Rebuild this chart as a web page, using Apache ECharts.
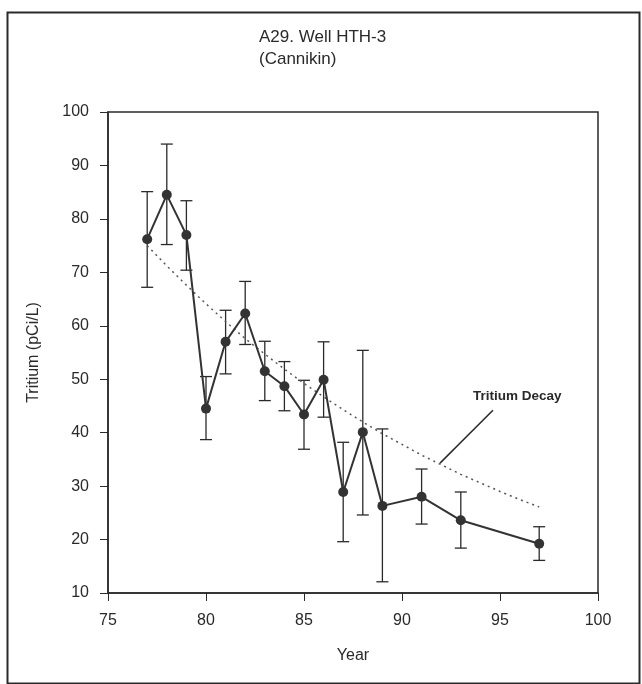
<!DOCTYPE html>
<html><head><meta charset="utf-8">
<script src="https://cdn.jsdelivr.net/npm/echarts@6/dist/echarts.min.js"></script>
<style>html,body{margin:0;padding:0;background:#fff}#c{width:642px;height:684px}</style>
</head><body><div id="c"></div>
<script>
const years = [77,78,79,80,81,82,83,84,85,86,87,88,89,91,93,97];
const tritium = [76.2,84.5,77.0,44.5,57.0,62.3,51.5,48.7,43.4,49.9,28.9,40.1,26.3,28.0,23.6,19.2];
const errLow = [67.2,75.2,70.4,38.7,51.0,56.5,46.0,44.1,36.9,42.9,19.6,24.6,12.1,22.9,18.4,16.1];
const errHigh = [85.1,94.0,83.4,50.5,62.9,68.3,57.1,53.3,49.8,57.0,38.2,55.4,40.7,33.2,28.9,22.4];
const decayYears = [77,78,79,80,81,82,83,84,85,86,87,88,89,90,91,92,93,94,95,96,97];
const decayValues = [75,71.2,67.6,64.1,60.8,57.6,54.7,51.9,49.2,46.7,44.3,42.0,39.8,37.8,35.8,34.0,32.2,30.6,29.0,27.5,26.1];
const xTicks = [75,80,85,90,95,100];
const yTicks = [10,20,30,40,50,60,70,80,90,100];

const chart = echarts.init(document.getElementById('c'));
const ink = '#2a2a2a';
const font = 'Liberation Sans, Arial, sans-serif';
chart.setOption({
  animation:false,
  backgroundColor:'#fff',
  grid:{left:108, top:112, width:490, height:481, show:true, borderColor:ink, borderWidth:1.5},
  xAxis:{type:'value', min:75, max:100, interval:5,
    name:'Year', nameLocation:'middle', nameGap:55, nameTextStyle:{fontFamily:font, fontSize:16, color:ink},
    axisLine:{lineStyle:{color:ink, width:1.5}}, axisTick:{length:8, lineStyle:{color:ink}},
    axisLabel:{fontFamily:font, fontSize:16, color:ink, margin:20}, splitLine:{show:false}},
  yAxis:{type:'value', min:10, max:100, interval:10,
    name:'Tritium (pCi/L)', nameLocation:'middle', nameGap:66, nameRotate:90, nameTextStyle:{fontFamily:font, fontSize:16, color:ink},
    axisLine:{lineStyle:{color:ink, width:1.5}}, axisTick:{length:8, lineStyle:{color:ink}},
    axisLabel:{fontFamily:font, fontSize:16, color:ink, margin:19}, splitLine:{show:false}},
  series:[
    {type:'line', data:decayYears.map((y,i)=>[y,decayValues[i]]), symbol:'none', silent:true,
     lineStyle:{color:'#555', width:1.5, type:[2,4]},
     markLine:{symbol:'none', silent:true, label:{show:false}, lineStyle:{color:ink, width:1.5, type:'solid'},
       data:[[{coord:[94.64,44.2]},{coord:[91.94,34.3]}]]}},
    {type:'custom', silent:true,
     renderItem:function(params, api){
       const x = api.value(0);
       const lo = api.coord([x, api.value(1)]);
       const hi = api.coord([x, api.value(2)]);
       const w = 6;
       const st = {stroke:ink, lineWidth:1.3};
       return {type:'group', children:[
         {type:'line', shape:{x1:lo[0],y1:lo[1],x2:hi[0],y2:hi[1]}, style:st},
         {type:'line', shape:{x1:lo[0]-w,y1:lo[1],x2:lo[0]+w,y2:lo[1]}, style:st},
         {type:'line', shape:{x1:hi[0]-w,y1:hi[1],x2:hi[0]+w,y2:hi[1]}, style:st}
       ]};
     },
     data:years.map((y,i)=>[y,errLow[i],errHigh[i]]), z:3},
    {type:'line', data:years.map((y,i)=>[y,tritium[i]]), symbol:'circle', symbolSize:10,
     itemStyle:{color:'#333'}, lineStyle:{color:'#333', width:2}, z:4}
  ],
  graphic:[
    {type:'rect', left:5, top:10, shape:{width:632, height:671}, style:{fill:null, stroke:ink, lineWidth:2}, silent:true},
    {type:'text', left:259, top:29, style:{text:'A29. Well HTH-3', fontFamily:font, fontSize:17, fill:ink}},
    {type:'text', left:259, top:51, style:{text:'(Cannikin)', fontFamily:font, fontSize:17, fill:ink}},
    {type:'text', left:473, top:389, style:{text:'Tritium Decay', fontFamily:font, fontSize:13.5, fontWeight:'bold', fill:ink}}
  ]
});
</script></body></html>
